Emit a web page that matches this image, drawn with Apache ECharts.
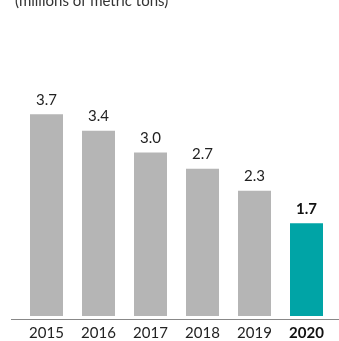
<!DOCTYPE html>
<html><head><meta charset="utf-8">
<script src="https://cdn.jsdelivr.net/npm/echarts@6/dist/echarts.min.js"></script>
<style>html,body{margin:0;padding:0;background:#fff}#c{width:339px;height:341px}</style>
</head><body><div id="c"></div>
<script>
const categories = ['2015','2016','2017','2018','2019','2020'];
const values = [3.7, 3.4, 3.0, 2.7, 2.3, 1.7];
const highlight = '2020';
const subtitle = '(millions of metric tons)';
const FONT = 'Lato';
const chart = echarts.init(document.getElementById('c'));
chart.setOption({
  animation: false,
  title: { text: subtitle, left: 10, top: -11, textStyle: { fontFamily: FONT, fontSize: 15, fontWeight: 'normal', color: '#333' } },
  grid: { left: 20.5, right: 6.5, top: 98, bottom: 22 },
  xAxis: {
    type: 'category', data: categories,
    axisLine: { show: false }, axisTick: { show: false },
    axisLabel: {
      interval: 0, margin: 10, fontFamily: FONT, fontSize: 15, color: '#222',
      formatter: v => v === highlight ? '{b|' + v + '}' : v,
      rich: { b: { fontFamily: FONT, fontSize: 15, fontWeight: 'bold', color: '#111' } }
    }
  },
  yAxis: { type: 'value', min: 0, max: 4, show: false, splitLine: { show: false } },
  series: [{
    type: 'bar', barWidth: 33,
    data: values.map((v, i) => ({
      value: v,
      itemStyle: { color: categories[i] === highlight ? '#00a4a6' : '#b5b5b5' },
      label: categories[i] === highlight ? { fontWeight: 'bold', color: '#111' } : {}
    })),
    label: { show: true, position: 'top', distance: 7, fontFamily: FONT, fontSize: 15, color: '#222', formatter: p => p.value.toFixed(1) }
  }],
  graphic: [{ type: 'line', shape: { x1: 11, y1: 319.5, x2: 339, y2: 319.5 }, style: { stroke: '#888', lineWidth: 1 } }]
});
</script></body></html>
